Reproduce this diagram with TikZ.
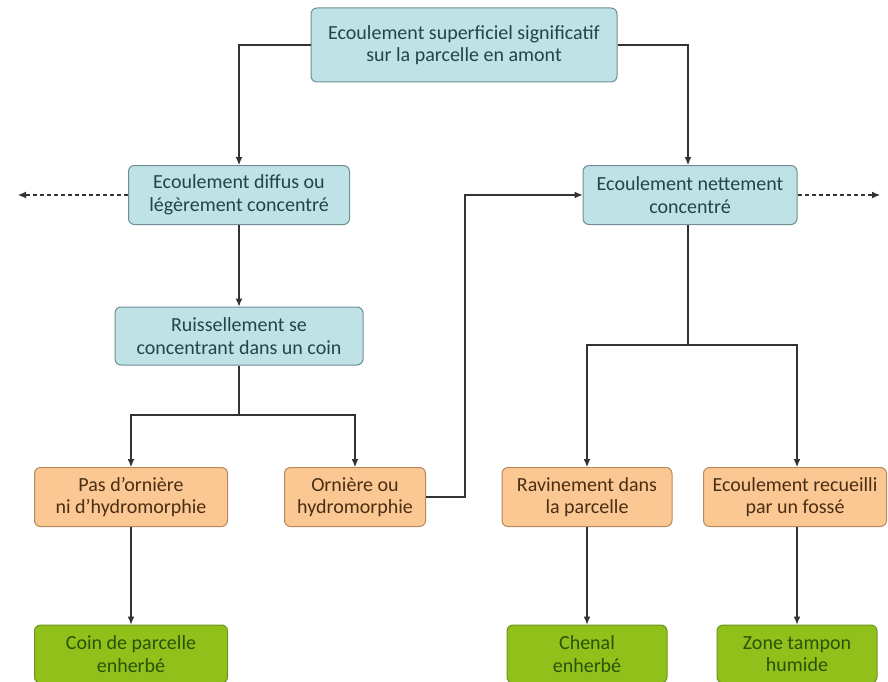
\documentclass[tikz,border=0pt]{standalone}
\usepackage{fontspec}
\setmainfont{Carlito}
\usetikzlibrary{arrows.meta}
\definecolor{bfill}{HTML}{BEE2E6}
\definecolor{bdraw}{HTML}{6F8F94}
\definecolor{btext}{HTML}{234548}
\definecolor{ofill}{HTML}{FBC792}
\definecolor{odraw}{HTML}{B8895C}
\definecolor{otext}{HTML}{4A2E14}
\definecolor{gfill}{HTML}{92C01A}
\definecolor{gdraw}{HTML}{6E9420}
\definecolor{gtext}{HTML}{2A5208}
\definecolor{lcol}{HTML}{333333}
\begin{document}
\begin{tikzpicture}[x=1pt,y=-1pt,
  box/.style={rounded corners=6pt, line width=1pt, align=center, font=\fontsize{20}{22.5}\selectfont, inner sep=2pt},
  bbox/.style={box, fill=bfill, draw=bdraw, text=btext},
  obox/.style={box, fill=ofill, draw=odraw, text=otext},
  gbox/.style={box, fill=gfill, draw=gdraw, text=gtext},
  conn/.style={draw=lcol, line width=1.1pt, -{Latex[length=8pt,width=7pt]}},
  dconn/.style={conn, dashed, dash pattern=on 4pt off 3pt}]
\useasboundingbox (0,0) rectangle (888,682);
\node[bbox, minimum width=306pt, minimum height=74pt] (top) at (464,45) {Ecoulement superficiel significatif\\sur la parcelle en amont};
\node[bbox, minimum width=221pt, minimum height=59pt] (diff) at (239,195) {Ecoulement diffus ou\\légèrement concentré};
\node[bbox, minimum width=214pt, minimum height=59pt] (net) at (690,195) {Ecoulement nettement\\concentré};
\node[bbox, minimum width=248pt, minimum height=58pt] (ruis) at (239,336) {Ruissellement se\\concentrant dans un coin};
\node[obox, minimum width=193pt, minimum height=59pt] (pas) at (131,497) {Pas d’ornière\\ni d’hydromorphie};
\node[obox, minimum width=141pt, minimum height=59pt] (orn) at (355,497) {Ornière ou\\hydromorphie};
\node[obox, minimum width=170pt, minimum height=59pt] (rav) at (587,497) {Ravinement dans\\la parcelle};
\node[obox, minimum width=183pt, minimum height=59pt] (rec) at (795,497) {Ecoulement recueilli\\par un fossé};
\node[gbox, minimum width=193pt, minimum height=58pt] (coin) at (131,654) {Coin de parcelle\\enherbé};
\node[gbox, minimum width=160pt, minimum height=58pt] (chen) at (587,654) {Chenal\\enherbé};
\node[gbox, minimum width=160pt, minimum height=58pt] (zone) at (797,654) {Zone tampon\\humide};
\coordinate (lend) at (18,195);
\coordinate (rend) at (880,195);
\coordinate (s1) at (239,415);
\coordinate (s2) at (688,345);
\coordinate (s3) at (465,497);
\draw[conn] (top.west) -| (diff.north);
\draw[conn] (top.east) -| ([xshift=-2pt]net.north);
\draw[dconn] (diff.west) -- (lend);
\draw[dconn] (net.east) -- (rend);
\draw[conn] (diff.south) -- (ruis.north);
\draw[lcol, line width=1.1pt] (ruis.south) -- (s1);
\draw[conn] (s1) -| (pas.north);
\draw[conn] (s1) -| (orn.north);
\draw[conn] (orn.east) -- (s3) |- (net.west);
\draw[lcol, line width=1.1pt] ([xshift=-2pt]net.south) -- (s2);
\draw[conn] (s2) -| (rav.north);
\draw[conn] (s2) -| ([xshift=2pt]rec.north);
\draw[conn] (pas.south) -- (coin.north);
\draw[conn] (rav.south) -- (chen.north);
\draw[conn] ([xshift=2pt]rec.south) -- (zone.north);
\end{tikzpicture}
\end{document}
